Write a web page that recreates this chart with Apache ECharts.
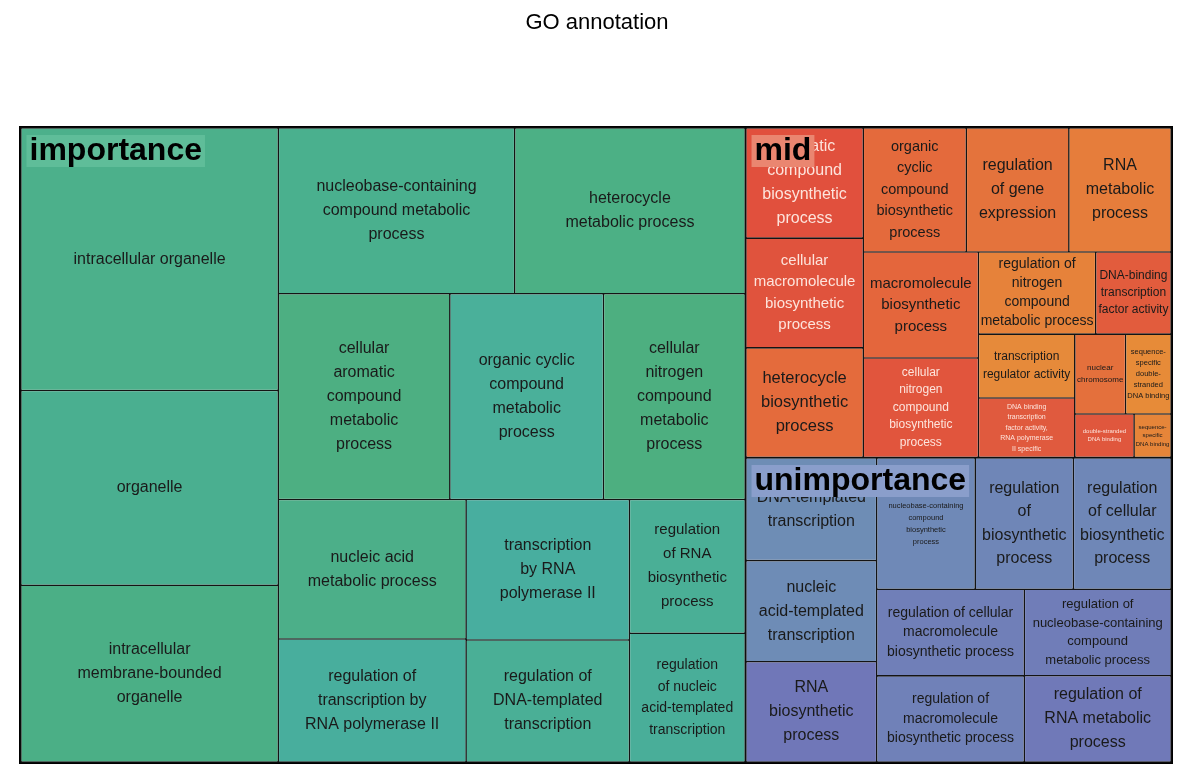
<!DOCTYPE html>
<html>
<head>
<meta charset="utf-8">
<script src="https://cdn.jsdelivr.net/npm/echarts@6/dist/echarts.min.js"></script>
<style>
html,body{margin:0;padding:0;background:#fff;}
#chart{width:1194px;height:782px;}
</style>
</head>
<body>
<div id="chart"></div>
<script>
// ---------------- DATA ----------------
const chartTitle = 'GO annotation';
const groupNames = ['importance', 'mid', 'unimportance'];

// label text (line breaks as in the picture) and cell sizes
const importanceTerms = [
  'intracellular organelle',
  'organelle',
  'intracellular\nmembrane-bounded\norganelle',
  'nucleobase-containing\ncompound metabolic\nprocess',
  'heterocycle\nmetabolic process',
  'cellular\naromatic\ncompound\nmetabolic\nprocess',
  'organic cyclic\ncompound\nmetabolic\nprocess',
  'cellular\nnitrogen\ncompound\nmetabolic\nprocess',
  'nucleic acid\nmetabolic process',
  'regulation of\ntranscription by\nRNA polymerase II',
  'transcription\nby RNA\npolymerase II',
  'regulation of\nDNA-templated\ntranscription',
  'regulation\nof RNA\nbiosynthetic\nprocess',
  'regulation\nof nucleic\nacid-templated\ntranscription'
];
const importanceValues = [67854, 50310, 45666, 39342, 38346, 35432, 31724, 29252, 26320, 23200, 23050, 20008, 15544, 14964];

const midTerms = [
  'aromatic\ncompound\nbiosynthetic\nprocess',
  'cellular\nmacromolecule\nbiosynthetic\nprocess',
  'heterocycle\nbiosynthetic\nprocess',
  'organic\ncyclic\ncompound\nbiosynthetic\nprocess',
  'regulation\nof gene\nexpression',
  'RNA\nmetabolic\nprocess',
  'macromolecule\nbiosynthetic\nprocess',
  'cellular\nnitrogen\ncompound\nbiosynthetic\nprocess',
  'regulation of\nnitrogen\ncompound\nmetabolic process',
  'DNA-binding\ntranscription\nfactor activity',
  'transcription\nregulator activity',
  'DNA binding\ntranscription\nfactor activity,\nRNA polymerase\nII specific',
  'nuclear\nchromosome',
  'sequence-\nspecific\ndouble-\nstranded\nDNA binding',
  'double-stranded\nDNA binding',
  'sequence-\nspecific\nDNA binding'
];
const midValues = [13000, 12950, 12900, 12850, 12800, 12750, 12296, 11484, 9690, 6230, 6200, 5733, 4080, 3655, 2576, 1610];

const unimportanceTerms = [
  'DNA-templated\ntranscription',
  'nucleic\nacid-templated\ntranscription',
  'RNA\nbiosynthetic\nprocess',
  'nucleobase-containing\ncompound\nbiosynthetic\nprocess',
  'regulation\nof\nbiosynthetic\nprocess',
  'regulation\nof cellular\nbiosynthetic\nprocess',
  'regulation of cellular\nmacromolecule\nbiosynthetic process',
  'regulation of\nmacromolecule\nbiosynthetic process',
  'regulation of\nnucleobase-containing\ncompound\nmetabolic process',
  'regulation of\nRNA metabolic\nprocess'
];
const unimportanceValues = [13500, 13300, 13200, 13000, 12950, 12900, 12870, 12800, 12780, 12750];

// ---------------- STYLE ----------------
const FONT = '"Liberation Sans", Arial, Helvetica, sans-serif';
const DARK = '#1a1a1a';
const LIGHT = '#fde4dc';

const cellColors = {
  importance: ['#4cb08b', '#4aaf90', '#4baf86', '#4ab08e', '#4cb085', '#4daf82', '#4ab09a', '#4daf80',
               '#4caf89', '#48ae9d', '#48ae9f', '#4aaf96', '#4aaf96', '#49ae99'],
  mid: ['#e1503d', '#e0533d', '#e46b3c', '#e46a3c', '#e4733c', '#e67d3b', '#e4663c', '#e1553d',
        '#e6823a', '#e25c3d', '#e68a3a', '#e05a3e', '#e4703c', '#e78b38', '#e0573d', '#e68539'],
  unimportance: ['#6e8db5', '#6e8cb6', '#7077b8', '#6f89b7', '#6f86b7', '#6f87b7', '#707fb8', '#7081b8',
                 '#707db8', '#7079b8']
};
// [fontSize, lineHeight]
const fontSpec = {
  importance: [[16,24],[16,24],[16,24],[16,24],[16,24],[16,24],[16,24],[16,24],[16,24],[16,24],[16,24],[16,24],[15,24],[14,21.5]],
  mid: [[16,24],[15,21.5],[16.5,24],[14.5,21.5],[16,24],[16,24],[15,21.5],[12,17.5],[14,19],[12,17],[12,18],[7,10.5],[8,12],[7.5,11],[6,8.5],[6,8.5]],
  unimportance: [[16,24],[16,24],[16,24],[7.5,12],[16,23.5],[16,23.5],[14,19.5],[14,19.5],[13,18.5],[16,24]]
};
const lightText = { importance: [], mid: [0, 1, 7, 11, 14], unimportance: [] };
const groupLabelBg = { importance: '#5fbd99', mid: '#ea8670', unimportance: '#8a9ecb' };

const termSets = { importance: importanceTerms, mid: midTerms, unimportance: unimportanceTerms };
const valueSets = { importance: importanceValues, mid: midValues, unimportance: unimportanceValues };

const labelText = {};
const mainData = groupNames.map(g => {
  const children = termSets[g].map((t, i) => {
    const name = t.replace(/\n/g, ' ');
    labelText[name] = t;
    const fs = fontSpec[g][i];
    return {
      name: name,
      value: valueSets[g][i],
      itemStyle: { color: cellColors[g][i] },
      label: {
        fontSize: fs[0],
        lineHeight: fs[1],
        color: lightText[g].indexOf(i) >= 0 ? LIGHT : DARK
      }
    };
  });
  return { name: g, children: children };
});

const CLEAR = 'rgba(0,0,0,0)';
const overlayData = groupNames.map(g => ({
  name: g,
  value: valueSets[g].reduce((a, b) => a + b, 0),
  itemStyle: { color: CLEAR, borderColor: CLEAR, borderWidth: 0 },
  label: {
    formatter: '{g|' + g + '}',
    rich: {
      g: {
        fontFamily: FONT, fontSize: 32, fontWeight: 'bold', color: '#000',
        lineHeight: 33, padding: [0, 3, 0, 3], backgroundColor: groupLabelBg[g]
      }
    }
  }
}));

const box = { left: 19, top: 126, width: 1154, height: 638 };

const option = {
  animation: false,
  title: {
    text: chartTitle, left: 'center', top: 7,
    textStyle: { fontFamily: FONT, fontSize: 22, fontWeight: 'normal', color: '#000' }
  },
  series: [
    {
      type: 'treemap',
      z: 2,
      left: box.left, top: box.top, width: box.width, height: box.height,
      squareRatio: 1,
      sort: 'desc',
      roam: false, nodeClick: false,
      breadcrumb: { show: false },
      visibleMin: 0,
      label: {
        show: true, position: 'inside', padding: 0, align: 'center', verticalAlign: 'middle',
        fontFamily: FONT, color: DARK,
        formatter: p => labelText[p.name] || p.name
      },
      upperLabel: { show: false },
      itemStyle: { borderWidth: 0, gapWidth: 0 },
      emphasis: { disabled: true },
      levels: [
        { itemStyle: { borderWidth: 1.5, borderColor: '#000', gapWidth: 0 } },
        { itemStyle: { borderWidth: 1.2, borderColor: '#141414', gapWidth: 1.6 } },
        { itemStyle: { borderWidth: 0, gapWidth: 0 } }
      ],
      data: mainData
    },
    {
      type: 'treemap',
      z: 10,
      silent: true,
      left: box.left, top: box.top, width: box.width, height: box.height,
      squareRatio: 1,
      sort: 'desc',
      roam: false, nodeClick: false,
      breadcrumb: { show: false },
      itemStyle: { color: CLEAR, borderColor: CLEAR, borderWidth: 0, gapWidth: 0 },
      label: { show: true, position: [6, 7], padding: 0 },
      emphasis: { disabled: true },
      levels: [
        { itemStyle: { borderWidth: 1.5, borderColor: CLEAR, gapWidth: 0 } },
        { itemStyle: { borderWidth: 0, gapWidth: 0, color: CLEAR, borderColor: CLEAR } }
      ],
      data: overlayData
    }
  ]
};

const chart = echarts.init(document.getElementById('chart'), null, { renderer: 'canvas' });
chart.setOption(option);
</script>
</body>
</html>
